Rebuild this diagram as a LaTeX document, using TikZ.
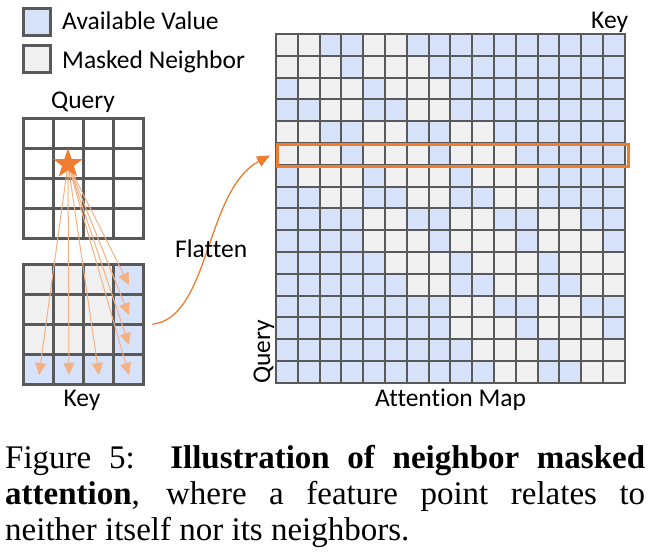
\documentclass[tikz,border=0pt]{standalone}
\usepackage{fontspec}
\usepackage{graphicx}
\usetikzlibrary{arrows.meta,shapes.geometric}
\newfontfamily\labfont[Ligatures=NoCommon]{Carlito}
\newfontfamily\capfont{Liberation Serif}
\definecolor{availblue}{RGB}{214,225,250}
\definecolor{maskgray}{RGB}{240,240,240}
\definecolor{gridline}{RGB}{89,89,89}
\definecolor{accent}{RGB}{237,125,49}
\definecolor{lightaccent}{RGB}{244,177,131}
\begin{document}
\begin{tikzpicture}[x=1pt,y=-1pt,
  lab/.style={font=\labfont\fontsize{25.5}{30}\selectfont, inner sep=0pt},
  captext/.style={font=\capfont\fontsize{33}{36}\selectfont, inner sep=0pt, anchor=base west},
  mapline/.style={draw=gridline, line width=2pt},
  smallline/.style={draw=gridline, line width=3pt},
  legendbox/.style={draw=gridline, line width=3pt, minimum size=27pt, inner sep=0pt, anchor=center},
  fanarrow/.style={draw=lightaccent, line width=1pt, -{Triangle[length=12pt,width=11pt,fill=lightaccent]}},
  flatarrow/.style={draw=accent, line width=1.3pt, -{Triangle[length=13pt,width=11pt,fill=accent]}},
]
\useasboundingbox (0,0) rectangle (651,554);

% ---------- legend ----------
\node[legendbox, fill=availblue] (legblue) at (37,22) {};
\node[legendbox, fill=maskgray] (leggray) at (37,59) {};
\node[lab, anchor=base west] (legbluetxt) at (62,30) {Available Value};
\node[lab, anchor=base west] (leggraytxt) at (62,68) {Masked Neighbor};

% ---------- query grid ----------
\node[lab, anchor=base] (querylab) at (83,108) {Query};
\fill[white] (23,118) rectangle (143,238);
\foreach \i in {0,...,4}{
  \draw[smallline] (23+\i*30,118) -- (23+\i*30,238);
  \draw[smallline] (23,118+\i*30) -- (143,118+\i*30);
}
\draw[smallline, line cap=rect] (23,118) rectangle (143,238);

% ---------- key grid ----------
\node[minimum width=120pt, minimum height=120pt, inner sep=0pt, anchor=north west] (keygrid) at (23,264) {};
\foreach \r in {0,...,3}{
  \foreach \c in {0,...,3}{
    \pgfmathtruncatemacro\km{(\r<3)&&(\c<3)}
    \ifnum\km=1 \def\kfc{maskgray}\else\def\kfc{availblue}\fi
    \fill[\kfc] (23+\c*30,264+\r*30) rectangle ++(30,30);
  }
}
\foreach \i in {0,...,4}{
  \draw[smallline] (23+\i*30,264) -- (23+\i*30,384);
  \draw[smallline] (23,264+\i*30) -- (143,264+\i*30);
}
\draw[smallline, line cap=rect] (23,264) rectangle (143,384);
\node[lab, anchor=base] (keylab) at (82,406) {Key};

% ---------- fan arrows from the query point ----------
\node[star, star points=5, star point ratio=2.5, inner sep=0pt, minimum size=31pt] (qstar) at (68,164) {};
\foreach \r/\c in {0/3,1/3,2/3,3/3,3/0,3/1,3/2}{
  \draw[fanarrow] (qstar.center) -- (38+\c*30+1,279+\r*30+6);
}
\node[star, star points=5, star point ratio=2.5, fill=accent, inner sep=0pt, minimum size=31pt] (qstarfill) at (68,164) {};

% ---------- attention map ----------
\foreach \qr in {0,...,3}{
 \foreach \qc in {0,...,3}{
  \foreach \kr in {0,...,3}{
   \foreach \kc in {0,...,3}{
    \def\mfc{availblue}%
    \ifnum\numexpr(\qr-\kr)*(\qr-\kr)\relax<2
      \ifnum\numexpr(\qc-\kc)*(\qc-\kc)\relax<2 \def\mfc{maskgray}\fi
    \fi
    \fill[\mfc] (276+4*\kr*21.8+\kc*21.8,34+4*\qr*21.8+\qc*21.8) rectangle ++(21.8,21.8);
   }
  }
 }
}
\foreach \i in {0,...,16}{
  \draw[mapline] (276+\i*21.8,34) -- (276+\i*21.8,382.8);
  \draw[mapline] (276,34+\i*21.8) -- (624.8,34+\i*21.8);
}
\draw[mapline, line cap=rect] (276,34) rectangle (624.8,382.8);
\node[draw=accent, line width=3pt, inner sep=0pt, minimum width=350.8pt, minimum height=21.8pt, anchor=north west] (hlrow) at (276,143) {};

\node[lab, anchor=base west] (keymaplab) at (591,28) {Key};
\node[lab, anchor=base west] (attnlab) at (375,406) {Attention Map};
\node[lab, rotate=90, anchor=base] (querymaplab) at (270,352) {Query};

% ---------- flatten arrow ----------
\coordinate (flatS) at ([xshift=9pt]keygrid.east);
\draw[flatarrow] (flatS) .. controls (210,318) and (205,190) .. ([xshift=-6pt]hlrow.west);
\node[lab, anchor=base west] (flatlab) at (175,257) {Flatten};

% ---------- caption ----------
\node[captext] (cap1) at (5,468) {\makebox[640pt][s]{Figure 5:\ \ \textbf{Illustration of neighbor masked}}};
\node[captext] (cap2) at (5,504) {\makebox[640pt][s]{\textbf{attention}, where a feature point relates to}};
\node[captext] (cap3) at (5,540) {neither itself nor its neighbors.};
\end{tikzpicture}
\end{document}
